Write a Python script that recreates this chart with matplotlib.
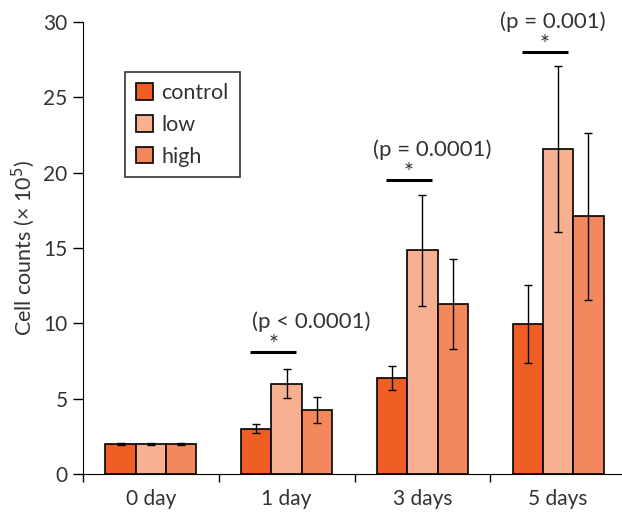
import matplotlib
matplotlib.use("Agg")
import matplotlib.pyplot as plt
import numpy as np

plt.rcParams['font.family'] = ['Lato', 'DejaVu Sans']

# data
days = ['0 day', '1 day', '3 days', '5 days']
groups = ['control', 'low', 'high']
control = [2.0, 3.0, 6.35, 9.95]
low = [2.0, 6.0, 14.85, 21.55]
high = [2.0, 4.25, 11.3, 17.1]
control_err = [0.05, 0.3, 0.8, 2.6]
low_err = [0.05, 0.95, 3.7, 5.5]
high_err = [0.05, 0.85, 3.0, 5.55]
pvalues = ['', '(p < 0.0001)', '(p = 0.0001)', '(p = 0.001)']
sig_height = [0, 8.1, 19.5, 28.0]

colors = ['#EF5F25', '#F7B090', '#F3885C']
text_col = '#333333'

fig = plt.figure(figsize=(6.22, 5.18), dpi=100)
ax = fig.add_axes([0.1334, 0.0849, 0.8666, 0.8726])

x = np.arange(len(days))
w = 0.223
series = [control, low, high]
errs = [control_err, low_err, high_err]
for i, (vals, err) in enumerate(zip(series, errs)):
    ax.bar(x + (i - 1) * w, vals, width=w, color=colors[i], edgecolor='black',
           linewidth=1.2, label=groups[i], zorder=2)
    ax.errorbar(x + (i - 1) * w, vals, yerr=err, fmt='none', ecolor='black',
                elinewidth=1.0, capsize=3, capthick=1.0, zorder=3)

# significance marks (text offsets tuned by eye)
text_dx = [0, 0.18, 0.07, -0.04]
for k in range(1, 4):
    x0 = x[k] - 0.27
    x1 = x[k] + 0.07
    ax.plot([x0, x1], [sig_height[k], sig_height[k]], color='black', lw=2.2,
            solid_capstyle='butt', clip_on=False, zorder=4)
    ax.text((x0 + x1) / 2, sig_height[k] - 0.2, '*', ha='center', va='bottom',
            fontsize=17, color=text_col)
    ax.text(x[k] + text_dx[k], sig_height[k] + 1.35, pvalues[k], ha='center',
            va='bottom', fontsize=16, color=text_col)

ax.set_xlim(-0.5, 3.47)
ax.set_ylim(0, 30)
ax.set_yticks(np.arange(0, 31, 5))
ax.set_xticks([-0.5, 0.5, 1.5, 2.5])
ax.set_xticklabels([])
ax.set_xticks(x, minor=True)
ax.set_xticklabels(days, minor=True)
ax.tick_params(axis='x', which='major', length=6, width=1.0, direction='out')
ax.tick_params(axis='x', which='minor', length=0, pad=11, labelsize=15, labelcolor=text_col)
ax.tick_params(axis='y', length=7, width=1.0, direction='out', labelsize=15,
               labelcolor=text_col, pad=4)
ax.spines['top'].set_visible(False)
ax.spines['right'].set_visible(False)
ax.set_ylabel('Cell counts (× 10$^5$)', fontsize=15.5, color=text_col, labelpad=5)

leg = ax.legend(loc='upper left', bbox_to_anchor=(0.078, 0.889), fontsize=15.5,
                frameon=True, fancybox=False, handlelength=0.8, handleheight=0.8,
                handletextpad=0.4, labelspacing=0.55, borderpad=0.5, borderaxespad=0)
leg.get_frame().set_edgecolor('black')
leg.get_frame().set_linewidth(1.2)
for t in leg.get_texts():
    t.set_color(text_col)

fig.savefig('out.png', dpi=100)
